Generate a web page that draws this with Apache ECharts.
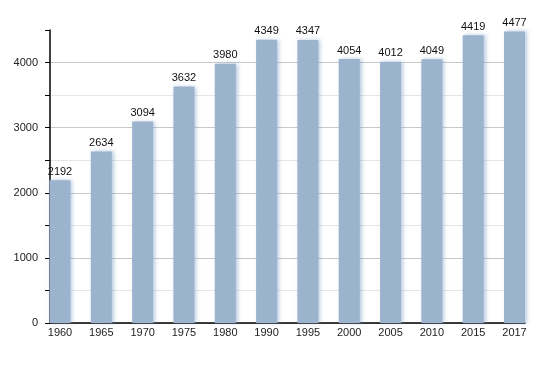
<!DOCTYPE html>
<html>
<head>
<meta charset="utf-8">
<script src="https://cdn.jsdelivr.net/npm/echarts@6/dist/echarts.min.js"></script>
<style>html,body{margin:0;padding:0;background:#fff}#c{width:555px;height:373px}</style>
</head>
<body>
<div id="c"></div>
<script>
var years = ['1960','1965','1970','1975','1980','1990','1995','2000','2005','2010','2015','2017'];
var population = [2192, 2634, 3094, 3632, 3980, 4349, 4347, 4054, 4012, 4049, 4419, 4477];
var yTickLabels = [0, 1000, 2000, 3000, 4000];

var chart = echarts.init(document.getElementById('c'));
var idx = years.map(function (_, i) { return i; });
var barData = population.map(function (v, i) { return [i, v]; });
var font = 'Liberation Sans, Arial, sans-serif';
chart.setOption({
  animation: false,
  grid: { left: 50, right: 30, top: 30, bottom: 50 },
  xAxis: {
    type: 'value',
    min: -0.242,
    max: 11.254,
    axisLine: { show: true, onZero: false, lineStyle: { color: '#000', width: 1.5 } },
    axisTick: { show: false },
    splitLine: { show: false },
    axisLabel: {
      customValues: idx,
      formatter: function (v) { return years[Math.round(v)]; },
      fontFamily: font, fontSize: 11, color: '#222', margin: 4
    }
  },
  yAxis: {
    type: 'value',
    min: 0, max: 4500, interval: 500,
    axisLine: { show: true, onZero: false, lineStyle: { color: '#000', width: 1.5 } },
    axisTick: { show: true, length: 5, lineStyle: { color: '#000' } },
    axisLabel: {
      fontFamily: font, fontSize: 11, color: '#222', margin: 12,
      formatter: function (v) { return yTickLabels.indexOf(v) >= 0 ? String(v) : ''; }
    },
    splitLine: {
      show: true,
      lineStyle: { color: ['#c8c8c8','#e6e6e6','#c8c8c8','#e6e6e6','#c8c8c8','#e6e6e6','#c8c8c8','#e6e6e6','#c8c8c8','rgba(0,0,0,0)'] }
    }
  },
  series: [{
    type: 'bar',
    data: barData,
    barWidth: 21,
    itemStyle: {
      color: '#9bb3cd',
      shadowColor: 'rgba(130,160,200,0.55)',
      shadowBlur: 4,
      shadowOffsetX: 2
    },
    label: {
      show: true, position: 'top', distance: 3,
      fontFamily: font, fontSize: 11, color: '#111',
      formatter: function (p) { return p.value[1]; }
    }
  }]
});
</script>
</body>
</html>
